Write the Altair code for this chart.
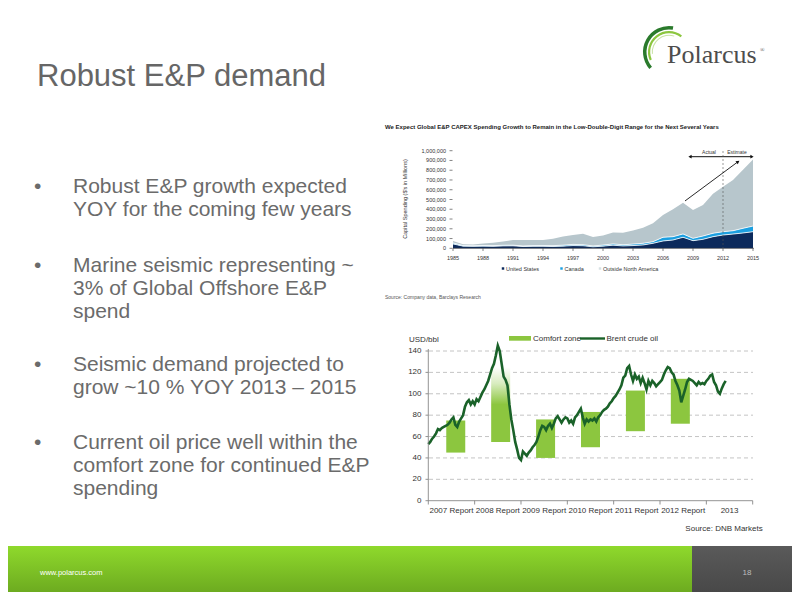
import altair as alt
import pandas as pd

OX, OY = 8, 8
def px(x):
    return x - OX
def py(y):
    return y - OY

FONT = "Liberation Sans"

# ---------------- data ----------------
slide_title = "Robust E&P demand"
bullets = [
    ["Robust E&P growth expected", "YOY for the coming few years"],
    ["Marine seismic representing ~", "3% of Global Offshore E&P", "spend"],
    ["Seismic demand projected to", "grow ~10 % YOY 2013 \u2013 2015"],
    ["Current oil price well within the", "comfort zone for continued E&P", "spending"],
]
footer_url = "www.polarcus.com"
page_no = "18"
logo_text = "Polarcus"

capex_title = ("We Expect Global E&P CAPEX Spending Growth to Remain in the "
               "Low-Double-Digit Range for the Next Several Years")
capex_ytitle = "Capital Spending ($'s in Millions)"
capex_source = "Source: Company data, Barclays Research"
capex_years = list(range(1985, 2016))
capex_us = [45, 22, 20, 22, 20, 24, 25, 18, 20, 20, 18, 22, 28, 26, 15, 22,
            32, 24, 28, 34, 51, 75, 85, 113, 78, 92, 119, 136, 146, 157, 170]
capex_canada = [10, 6, 6, 7, 7, 7, 7, 6, 8, 9, 9, 10, 12, 11, 9, 11,
                13, 12, 15, 17, 17, 38, 34, 34, 24, 34, 35, 34, 34, 48, 58]
capex_total = [75, 42, 40, 50, 58, 70, 85, 85, 85, 85, 98, 120, 135, 148, 115, 130,
               162, 160, 183, 211, 256, 341, 400, 467, 392, 444, 560, 630, 700, 805, 910]
capex_series = ["United States", "Canada", "Outside North America"]
capex_colors = ["#0c2a5c", "#1c9fe0", "#b7c6cc"]
capex_yticks = [0, 100000, 200000, 300000, 400000, 500000, 600000, 700000, 800000, 900000, 1000000]
capex_xticks = [1985, 1988, 1991, 1994, 1997, 2000, 2003, 2006, 2009, 2012, 2015]

brent_start = 2007
brent_values = [
    53, 55, 58, 60, 63, 67, 66, 68, 69, 70, 71, 73, 76, 78, 71, 69, 74, 77, 80, 88, 92, 94, 90, 93,
    90, 95, 93, 97, 101, 104, 108, 112, 118, 124, 128, 136, 145, 140, 128, 116, 113, 108, 90, 76, 66, 55, 48, 40,
    38, 46, 44, 42, 45, 47, 50, 52, 55, 60, 66, 70, 69, 66, 70, 72, 68, 72, 77, 79, 76, 73, 76, 78,
    77, 73, 75, 72, 78, 80, 83, 86, 78, 72, 76, 74, 76, 75, 77, 74, 78, 80, 83, 85, 86, 88, 91, 93,
    96, 98, 101, 104, 108, 115, 117, 124, 126, 118, 112, 118, 114, 116, 110, 115, 110, 104, 112, 108, 112, 110, 107, 109,
    111, 113, 118, 122, 125, 124, 120, 118, 112, 108, 103, 92, 98, 104, 111, 114, 113, 112, 110, 108, 111, 109, 110, 109,
    112, 114, 117, 118, 111, 108, 102, 100, 105, 109, 112,
]
report_years = [2007, 2008, 2009, 2010, 2011, 2012]
comfort_low = [45, 55, 40, 50, 65, 72]
comfort_high = [75, 125, 76, 83, 103, 114]
oil_xlabels = ["2007 Report", "2008 Report", "2009 Report", "2010 Report",
               "2011 Report", "2012 Report", "2013"]
oil_label_years = [2007, 2008, 2009, 2010, 2011, 2012, 2013]
oil_tick_years = [2007, 2008, 2009, 2010, 2011, 2012, 2013, 2014]
oil_yticks = [0, 20, 40, 60, 80, 100, 120, 140]

# ---------------- helpers ----------------
def one():
    return pd.DataFrame({"a": [0]})

def text_layer(s, x, y, size, color="#333333", align="left", baseline="alphabetic",
               font=FONT, weight="normal", angle=None, lh=None):
    kw = dict(align=align, baseline=baseline, fontSize=size, color=color,
              font=font, fontWeight=weight)
    if angle is not None:
        kw["angle"] = angle
    if lh is not None:
        kw["lineHeight"] = lh
        kw["lineBreak"] = "\n"
    return alt.Chart(pd.DataFrame({"t": [s]})).mark_text(**kw).encode(
        x=alt.value(px(x)), y=alt.value(py(y)), text="t:N")

def rect_layer(x1, x2, y1, y2, fill):
    return alt.Chart(one()).mark_rect(fill=fill, strokeWidth=0).encode(
        x=alt.value(px(x1)), x2=alt.value(px(x2)), y=alt.value(py(y1)), y2=alt.value(py(y2)))

def vgrad(c1, c2):
    return alt.Gradient(gradient="linear",
                        stops=[alt.GradientStop(color=c1, offset=0),
                               alt.GradientStop(color=c2, offset=1)],
                        x1=0, x2=0, y1=0, y2=1)

layers = []

# ---------------- footer ----------------
layers.append(rect_layer(0, 692, 546, 600, vgrad("#8fd92c", "#67a31e")))
layers.append(rect_layer(692, 800, 546, 600, vgrad("#5a5a5a", "#454545")))
layers.append(text_layer(footer_url, 40, 573, 7.5, color="#ffffff", baseline="middle"))
layers.append(text_layer(page_no, 747, 573, 8, color="#bdbdbd", align="center", baseline="middle"))

# ---------------- logo ----------------
layers.append(alt.Chart(one()).mark_arc(theta=4.0, theta2=6.45, radius=26, radius2=22.5,
                                        color="#2a7a2c").encode(x=alt.value(px(669)), y=alt.value(py(52))))
layers.append(alt.Chart(one()).mark_arc(theta=4.3, theta2=6.95, radius=21, radius2=18.8,
                                        color="#8cc63f").encode(x=alt.value(px(669)), y=alt.value(py(52))))
layers.append(alt.Chart(one()).mark_arc(theta=4.6, theta2=6.6, radius=17.2, radius2=16.2,
                                        color="#c9e2a6").encode(x=alt.value(px(669)), y=alt.value(py(52))))
layers.append(text_layer(logo_text, 667, 63, 26, color="#4d4d4d", font="Liberation Serif"))
layers.append(text_layer("\u00ae", 760, 52, 6, color="#4d4d4d", font="Liberation Serif"))

# ---------------- title & bullets ----------------
layers.append(text_layer(slide_title, 37, 86, 31, color="#666666"))
bullet_baselines = [193, 272, 371, 449]
for lines, yb in zip(bullets, bullet_baselines):
    layers.append(text_layer("\u2022", 34, yb, 21, color="#6b6b6b"))
    layers.append(text_layer("\n".join(lines), 73, yb, 21, color="#6b6b6b", lh=23))

# ---------------- upper chart (CAPEX) ----------------
ux = alt.Scale(domain=[1985, 2015], range=[px(453), px(753)], nice=False, zero=False)
uy = alt.Scale(domain=[0, 1000000], range=[py(248.3), py(150.7)], nice=False, zero=False)

rows = []
for yr, us, ca, tot in zip(capex_years, capex_us, capex_canada, capex_total):
    us_v, ca_v, tot_v = us * 1000, (us + ca) * 1000, tot * 1000
    rows.append({"year": yr, "series": capex_series[0], "bottom": 0, "top": us_v})
    rows.append({"year": yr, "series": capex_series[1], "bottom": us_v, "top": ca_v})
    rows.append({"year": yr, "series": capex_series[2], "bottom": ca_v, "top": tot_v})
capex_df = pd.DataFrame(rows)

layers.append(alt.Chart(capex_df).mark_area(opacity=1).encode(
    x=alt.X("year:Q", scale=ux, axis=None),
    y=alt.Y("top:Q", scale=uy, axis=None, stack=None),
    y2="bottom:Q",
    color=alt.Color("series:N", scale=alt.Scale(domain=capex_series, range=capex_colors), legend=None),
))
sep_df = capex_df[capex_df["series"] != capex_series[2]]
layers.append(alt.Chart(sep_df).mark_line(color="white", strokeWidth=0.8).encode(
    x=alt.X("year:Q", scale=ux, axis=None),
    y=alt.Y("top:Q", scale=uy, axis=None),
    detail="series:N",
))

uyt = pd.DataFrame({"v": capex_yticks, "lab": [f"{v:,}" for v in capex_yticks]})
layers.append(alt.Chart(uyt).mark_text(align="right", baseline="middle", fontSize=5.5,
                                       color="#333333", font=FONT).encode(
    x=alt.value(px(446)), y=alt.Y("v:Q", scale=uy, axis=None), text="lab:N"))
layers.append(alt.Chart(uyt).mark_rule(color="#333333", strokeWidth=0.6).encode(
    x=alt.value(px(449.5)), x2=alt.value(px(452.5)), y=alt.Y("v:Q", scale=uy, axis=None)))
layers.append(alt.Chart(pd.DataFrame({"v": [0]})).mark_rule(color="#333333", strokeWidth=0.6).encode(
    x=alt.value(px(453)), x2=alt.value(px(754)), y=alt.Y("v:Q", scale=uy, axis=None)))
uxt = pd.DataFrame({"yr": capex_xticks, "lab": [str(v) for v in capex_xticks]})
layers.append(alt.Chart(uxt).mark_rule(color="#333333", strokeWidth=0.6).encode(
    x=alt.X("yr:Q", scale=ux, axis=None), y=alt.value(py(248.3)), y2=alt.value(py(251))))
layers.append(alt.Chart(uxt).mark_text(align="center", baseline="middle", fontSize=5.5,
                                       color="#333333", font=FONT).encode(
    x=alt.X("yr:Q", scale=ux, axis=None), y=alt.value(py(257.5)), text="lab:N"))
layers.append(text_layer(capex_ytitle, 405, 199, 5.5, color="#333333", align="center",
                         baseline="middle", angle=270))
layers.append(text_layer(capex_title, 385, 127, 6, color="#222222", baseline="middle", weight="bold"))
layers.append(text_layer(capex_source, 385, 297, 5, color="#555555", baseline="middle"))

# legend
leg_x = [503, 561.5, 600]
leg_cols = ["#0c2a5c", "#1c9fe0", "#d7e1e4"]
for lx_, col, name in zip(leg_x, leg_cols, capex_series):
    layers.append(alt.Chart(one()).mark_square(size=6, color=col, opacity=1).encode(
        x=alt.value(px(lx_)), y=alt.value(py(268.5))))
    layers.append(text_layer(name, lx_ + 3, 268.5, 5.5, color="#333333", baseline="middle"))

# Actual / Estimate annotation
ann_span = pd.DataFrame({"x": [2008.7], "x2": [2014.9]})
layers.append(alt.Chart(ann_span).mark_rule(color="#111111", strokeWidth=1).encode(
    x=alt.X("x:Q", scale=ux, axis=None), x2="x2:Q", y=alt.value(py(156.7))))
layers.append(alt.Chart(pd.DataFrame({"x": [2008.7]})).mark_point(
    shape="triangle-left", filled=True, size=14, color="#111111", opacity=1).encode(
    x=alt.X("x:Q", scale=ux, axis=None), y=alt.value(py(156.7))))
layers.append(alt.Chart(pd.DataFrame({"x": [2014.9]})).mark_point(
    shape="triangle-right", filled=True, size=14, color="#111111", opacity=1).encode(
    x=alt.X("x:Q", scale=ux, axis=None), y=alt.value(py(156.7))))
layers.append(alt.Chart(pd.DataFrame({"x": [2012]})).mark_rule(
    color="#555555", strokeWidth=0.6, strokeDash=[2, 2]).encode(
    x=alt.X("x:Q", scale=ux, axis=None), y=alt.value(py(151)), y2=alt.value(py(248))))
ann_txt = pd.DataFrame({"x": [2010.6, 2013.4], "t": ["Actual", "Estimate"]})
layers.append(alt.Chart(ann_txt).mark_text(fontSize=5, color="#333333", font=FONT,
                                           baseline="middle").encode(
    x=alt.X("x:Q", scale=ux, axis=None), y=alt.value(py(152)), text="t:N"))
diag = pd.DataFrame({"x": [2008.2, 2013.5], "y": [485000, 887000]})
layers.append(alt.Chart(diag).mark_line(color="#111111", strokeWidth=0.9).encode(
    x=alt.X("x:Q", scale=ux, axis=None), y=alt.Y("y:Q", scale=uy, axis=None)))
layers.append(alt.Chart(diag.tail(1)).mark_point(
    shape="triangle-up", filled=True, size=16, angle=53.6, color="#111111", opacity=1).encode(
    x=alt.X("x:Q", scale=ux, axis=None), y=alt.Y("y:Q", scale=uy, axis=None)))

# ---------------- lower chart (oil) ----------------
lx = alt.Scale(domain=[2007, 2014], range=[px(428.3), px(752.7)], nice=False, zero=False)
ly = alt.Scale(domain=[0, 140], range=[py(500.7), py(351)], nice=False, zero=False)

grid_df = pd.DataFrame({"v": oil_yticks[1:]})
layers.append(alt.Chart(grid_df).mark_rule(color="#b5b5b5", strokeWidth=0.8, strokeDash=[4, 3]).encode(
    x=alt.value(px(429)), x2=alt.value(px(753)), y=alt.Y("v:Q", scale=ly, axis=None)))

bar_df = pd.DataFrame({"year": report_years, "low": comfort_low, "high": comfort_high})
bar_df["mid"] = bar_df["year"] + 0.5
GREEN = "#8cc63f"
layers.append(alt.Chart(bar_df).transform_filter("datum.year != 2008").mark_bar(
    size=19, color=GREEN, opacity=1).encode(
    x=alt.X("mid:Q", scale=lx, axis=None),
    y=alt.Y("high:Q", scale=ly, axis=None), y2="low:Q"))
grad = alt.Gradient(gradient="linear",
                    stops=[alt.GradientStop(color="#ffffff", offset=0),
                           alt.GradientStop(color="#d8ecbf", offset=0.22),
                           alt.GradientStop(color=GREEN, offset=0.5),
                           alt.GradientStop(color=GREEN, offset=1)],
                    x1=0, x2=0, y1=0, y2=1)
layers.append(alt.Chart(bar_df).transform_filter("datum.year == 2008").mark_bar(
    size=19, fill=grad, opacity=1).encode(
    x=alt.X("mid:Q", scale=lx, axis=None),
    y=alt.Y("high:Q", scale=ly, axis=None), y2="low:Q"))

brent_df = pd.DataFrame({"t": [brent_start + i / 24 for i in range(len(brent_values))],
                         "v": brent_values})
DKGREEN = "#1a6229"
layers.append(alt.Chart(brent_df).mark_line(color=DKGREEN, strokeWidth=2.6).encode(
    x=alt.X("t:Q", scale=lx, axis=None), y=alt.Y("v:Q", scale=ly, axis=None)))

# axes
layers.append(alt.Chart(one()).mark_rule(color="#777777", strokeWidth=0.8).encode(
    x=alt.value(px(428.3)), y=alt.value(py(500.7)), y2=alt.value(py(349))))
layers.append(alt.Chart(one()).mark_rule(color="#777777", strokeWidth=0.8).encode(
    x=alt.value(px(428.3)), x2=alt.value(px(752.7)), y=alt.value(py(500.7))))
oyt = pd.DataFrame({"v": oil_yticks, "lab": [str(v) for v in oil_yticks]})
layers.append(alt.Chart(oyt).mark_rule(color="#777777", strokeWidth=0.8).encode(
    x=alt.value(px(425.5)), x2=alt.value(px(428.3)), y=alt.Y("v:Q", scale=ly, axis=None)))
layers.append(alt.Chart(oyt).mark_text(align="right", baseline="middle", fontSize=8,
                                       color="#333333", font=FONT).encode(
    x=alt.value(px(421.5)), y=alt.Y("v:Q", scale=ly, axis=None), text="lab:N"))
oxt = pd.DataFrame({"yr": oil_tick_years})
layers.append(alt.Chart(oxt).mark_rule(color="#777777", strokeWidth=0.8).encode(
    x=alt.X("yr:Q", scale=lx, axis=None), y=alt.value(py(500.7)), y2=alt.value(py(504.5))))
oxl = pd.DataFrame({"mid": [y + 0.5 for y in oil_label_years], "lab": oil_xlabels})
layers.append(alt.Chart(oxl).mark_text(align="center", baseline="middle", fontSize=8,
                                       color="#333333", font=FONT).encode(
    x=alt.X("mid:Q", scale=lx, axis=None), y=alt.value(py(510.5)), text="lab:N"))
layers.append(text_layer("USD/bbl", 409, 339.5, 8, color="#333333", baseline="middle"))
layers.append(text_layer("Source: DNB Markets", 762.7, 528.7, 8, color="#333333",
                         align="right", baseline="middle"))

# legend
layers.append(rect_layer(509, 531, 336, 340.7, GREEN))
layers.append(text_layer("Comfort zone", 533, 338.5, 8, color="#333333", baseline="middle"))
layers.append(alt.Chart(one()).mark_rule(color=DKGREEN, strokeWidth=2.4).encode(
    x=alt.value(px(580)), x2=alt.value(px(605)), y=alt.value(py(338.5))))
layers.append(text_layer("Brent crude oil", 606.5, 338.5, 8, color="#333333", baseline="middle"))

chart = alt.layer(*layers).resolve_scale(
    x="independent", y="independent", color="independent"
).properties(
    width=784, height=584,
    autosize=alt.AutoSizeParams(type="none"),
    padding=0,
).configure_view(strokeWidth=0)

chart.save("out.html", embed_options={"renderer": "svg", "actions": False})
